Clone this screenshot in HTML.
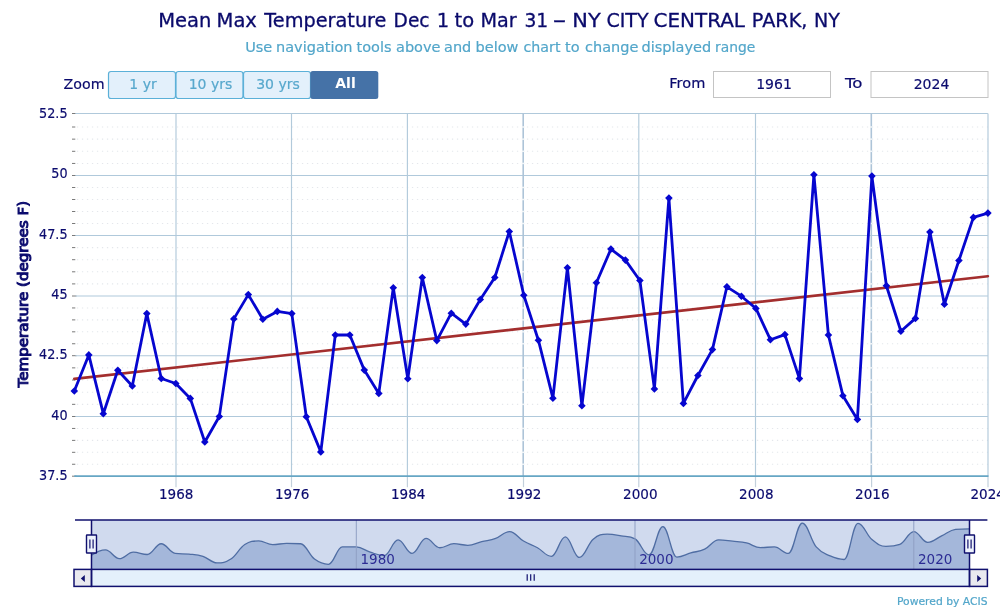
<!DOCTYPE html>
<html lang="en"><head><meta charset="utf-8"><title>Mean Max Temperature</title>
<style>html,body{margin:0;padding:0;background:#fff;}body{width:1000px;height:611px;overflow:hidden;}svg{display:block;font-family:"DejaVu Sans","Liberation Sans",sans-serif;}</style></head><body>
<svg width="1000" height="611" viewBox="0 0 1000 611">
<rect x="0" y="0" width="1000" height="611" fill="#ffffff"/>
<text y="27.0" font-size="19.5" fill="#0a0a6b" stroke="#0a0a6b" stroke-width="0.3" id="title"><tspan x="158.3">Mean</tspan> <tspan x="216.6">Max</tspan> <tspan x="264.3" textLength="122.2" lengthAdjust="spacingAndGlyphs">Temperature</tspan> <tspan x="393.6" textLength="36.0" lengthAdjust="spacingAndGlyphs">Dec</tspan> <tspan x="436.8">1</tspan> <tspan x="454.5" textLength="19.6" lengthAdjust="spacingAndGlyphs">to</tspan> <tspan x="480.4" textLength="36.2" lengthAdjust="spacingAndGlyphs">Mar</tspan> <tspan x="524.4" textLength="23.8" lengthAdjust="spacingAndGlyphs">31</tspan> <tspan x="552.5" textLength="14.0" lengthAdjust="spacingAndGlyphs">-</tspan> <tspan x="572.3" textLength="28.4" lengthAdjust="spacingAndGlyphs">NY</tspan> <tspan x="606.4" textLength="42.2" lengthAdjust="spacingAndGlyphs">CITY</tspan> <tspan x="653.5" textLength="91.5" lengthAdjust="spacingAndGlyphs">CENTRAL</tspan> <tspan x="751.8" textLength="55.6" lengthAdjust="spacingAndGlyphs">PARK,</tspan> <tspan x="814.0" textLength="25.9" lengthAdjust="spacingAndGlyphs">NY</tspan></text>
<text y="52.0" font-size="14.5" fill="#52a6ca" stroke="#52a6ca" stroke-width="0.18" id="sub"><tspan x="245.2">Use</tspan> <tspan x="276.0">navigation</tspan> <tspan x="356.5">tools</tspan> <tspan x="396.0">above</tspan> <tspan x="444.0">and</tspan> <tspan x="475.5">below</tspan> <tspan x="523.5" textLength="37.0" lengthAdjust="spacingAndGlyphs">chart</tspan> <tspan x="565.0">to</tspan> <tspan x="585.0">change</tspan> <tspan x="641.5">displayed</tspan> <tspan x="715.0" textLength="40.3" lengthAdjust="spacingAndGlyphs">range</tspan></text>
<text x="63.6" y="89" font-size="14" fill="#0b0b6e" stroke="#0b0b6e" stroke-width="0.18" textLength="41" lengthAdjust="spacingAndGlyphs">Zoom</text>
<rect x="108.5" y="71.5" width="67" height="27" rx="2.5" fill="#e3f0fb" stroke="#5bb0d8" stroke-width="1.2"/>
<text x="143.0" y="88.5" font-size="14" fill="#58a8cd" text-anchor="middle" stroke="#58a8cd" stroke-width="0.2">1 yr</text>
<rect x="176.0" y="71.5" width="67" height="27" rx="2.5" fill="#e3f0fb" stroke="#5bb0d8" stroke-width="1.2"/>
<text x="210.5" y="88.5" font-size="14" fill="#58a8cd" text-anchor="middle" stroke="#58a8cd" stroke-width="0.2">10 yrs</text>
<rect x="243.5" y="71.5" width="67" height="27" rx="2.5" fill="#e3f0fb" stroke="#5bb0d8" stroke-width="1.2"/>
<text x="278.0" y="88.5" font-size="14" fill="#58a8cd" text-anchor="middle" stroke="#58a8cd" stroke-width="0.2">30 yrs</text>
<rect x="310.3" y="71" width="68" height="28" rx="2.5" fill="#4572a7"/>
<text x="345.5" y="87.6" font-size="14" fill="#ffffff" text-anchor="middle" font-weight="bold">All</text>
<text x="669.3" y="88.4" font-size="14" fill="#0b0b6e" stroke="#0b0b6e" stroke-width="0.18" textLength="36" lengthAdjust="spacingAndGlyphs">From</text>
<rect x="713.5" y="71.5" width="117" height="26" fill="#ffffff" stroke="#c4c4c4" stroke-width="1"/>
<text x="774" y="88.5" font-size="14" fill="#0b0b6e" text-anchor="middle" stroke="#0b0b6e" stroke-width="0.18">1961</text>
<text x="845" y="88.4" font-size="14" fill="#0b0b6e" stroke="#0b0b6e" stroke-width="0.18" textLength="17.5" lengthAdjust="spacingAndGlyphs">To</text>
<rect x="871" y="71.5" width="117" height="26" fill="#ffffff" stroke="#c4c4c4" stroke-width="1"/>
<text x="931.5" y="88.5" font-size="14" fill="#0b0b6e" text-anchor="middle" stroke="#0b0b6e" stroke-width="0.18">2024</text>
<line x1="76.9" y1="127.00" x2="987.9" y2="127.00" stroke="#e4e7ec" stroke-width="1.1" stroke-dasharray="1.3,3.7"/>
<line x1="76.9" y1="139.15" x2="987.9" y2="139.15" stroke="#e4e7ec" stroke-width="1.1" stroke-dasharray="1.3,3.7"/>
<line x1="76.9" y1="151.30" x2="987.9" y2="151.30" stroke="#e4e7ec" stroke-width="1.1" stroke-dasharray="1.3,3.7"/>
<line x1="76.9" y1="163.45" x2="987.9" y2="163.45" stroke="#e4e7ec" stroke-width="1.1" stroke-dasharray="1.3,3.7"/>
<line x1="76.9" y1="187.50" x2="987.9" y2="187.50" stroke="#e4e7ec" stroke-width="1.1" stroke-dasharray="1.3,3.7"/>
<line x1="76.9" y1="199.50" x2="987.9" y2="199.50" stroke="#e4e7ec" stroke-width="1.1" stroke-dasharray="1.3,3.7"/>
<line x1="76.9" y1="211.50" x2="987.9" y2="211.50" stroke="#e4e7ec" stroke-width="1.1" stroke-dasharray="1.3,3.7"/>
<line x1="76.9" y1="223.50" x2="987.9" y2="223.50" stroke="#e4e7ec" stroke-width="1.1" stroke-dasharray="1.3,3.7"/>
<line x1="76.9" y1="247.60" x2="987.9" y2="247.60" stroke="#e4e7ec" stroke-width="1.1" stroke-dasharray="1.3,3.7"/>
<line x1="76.9" y1="259.70" x2="987.9" y2="259.70" stroke="#e4e7ec" stroke-width="1.1" stroke-dasharray="1.3,3.7"/>
<line x1="76.9" y1="271.80" x2="987.9" y2="271.80" stroke="#e4e7ec" stroke-width="1.1" stroke-dasharray="1.3,3.7"/>
<line x1="76.9" y1="283.90" x2="987.9" y2="283.90" stroke="#e4e7ec" stroke-width="1.1" stroke-dasharray="1.3,3.7"/>
<line x1="76.9" y1="307.94" x2="987.9" y2="307.94" stroke="#e4e7ec" stroke-width="1.1" stroke-dasharray="1.3,3.7"/>
<line x1="76.9" y1="319.88" x2="987.9" y2="319.88" stroke="#e4e7ec" stroke-width="1.1" stroke-dasharray="1.3,3.7"/>
<line x1="76.9" y1="331.82" x2="987.9" y2="331.82" stroke="#e4e7ec" stroke-width="1.1" stroke-dasharray="1.3,3.7"/>
<line x1="76.9" y1="343.76" x2="987.9" y2="343.76" stroke="#e4e7ec" stroke-width="1.1" stroke-dasharray="1.3,3.7"/>
<line x1="76.9" y1="367.86" x2="987.9" y2="367.86" stroke="#e4e7ec" stroke-width="1.1" stroke-dasharray="1.3,3.7"/>
<line x1="76.9" y1="380.02" x2="987.9" y2="380.02" stroke="#e4e7ec" stroke-width="1.1" stroke-dasharray="1.3,3.7"/>
<line x1="76.9" y1="392.18" x2="987.9" y2="392.18" stroke="#e4e7ec" stroke-width="1.1" stroke-dasharray="1.3,3.7"/>
<line x1="76.9" y1="404.34" x2="987.9" y2="404.34" stroke="#e4e7ec" stroke-width="1.1" stroke-dasharray="1.3,3.7"/>
<line x1="76.9" y1="428.44" x2="987.9" y2="428.44" stroke="#e4e7ec" stroke-width="1.1" stroke-dasharray="1.3,3.7"/>
<line x1="76.9" y1="440.38" x2="987.9" y2="440.38" stroke="#e4e7ec" stroke-width="1.1" stroke-dasharray="1.3,3.7"/>
<line x1="76.9" y1="452.32" x2="987.9" y2="452.32" stroke="#e4e7ec" stroke-width="1.1" stroke-dasharray="1.3,3.7"/>
<line x1="76.9" y1="464.26" x2="987.9" y2="464.26" stroke="#e4e7ec" stroke-width="1.1" stroke-dasharray="1.3,3.7"/>
<line x1="72" y1="127.00" x2="75.3" y2="127.00" stroke="#7a7a7a" stroke-width="1"/>
<line x1="72" y1="139.15" x2="75.3" y2="139.15" stroke="#7a7a7a" stroke-width="1"/>
<line x1="72" y1="151.30" x2="75.3" y2="151.30" stroke="#7a7a7a" stroke-width="1"/>
<line x1="72" y1="163.45" x2="75.3" y2="163.45" stroke="#7a7a7a" stroke-width="1"/>
<line x1="72" y1="187.50" x2="75.3" y2="187.50" stroke="#7a7a7a" stroke-width="1"/>
<line x1="72" y1="199.50" x2="75.3" y2="199.50" stroke="#7a7a7a" stroke-width="1"/>
<line x1="72" y1="211.50" x2="75.3" y2="211.50" stroke="#7a7a7a" stroke-width="1"/>
<line x1="72" y1="223.50" x2="75.3" y2="223.50" stroke="#7a7a7a" stroke-width="1"/>
<line x1="72" y1="247.60" x2="75.3" y2="247.60" stroke="#7a7a7a" stroke-width="1"/>
<line x1="72" y1="259.70" x2="75.3" y2="259.70" stroke="#7a7a7a" stroke-width="1"/>
<line x1="72" y1="271.80" x2="75.3" y2="271.80" stroke="#7a7a7a" stroke-width="1"/>
<line x1="72" y1="283.90" x2="75.3" y2="283.90" stroke="#7a7a7a" stroke-width="1"/>
<line x1="72" y1="307.94" x2="75.3" y2="307.94" stroke="#7a7a7a" stroke-width="1"/>
<line x1="72" y1="319.88" x2="75.3" y2="319.88" stroke="#7a7a7a" stroke-width="1"/>
<line x1="72" y1="331.82" x2="75.3" y2="331.82" stroke="#7a7a7a" stroke-width="1"/>
<line x1="72" y1="343.76" x2="75.3" y2="343.76" stroke="#7a7a7a" stroke-width="1"/>
<line x1="72" y1="367.86" x2="75.3" y2="367.86" stroke="#7a7a7a" stroke-width="1"/>
<line x1="72" y1="380.02" x2="75.3" y2="380.02" stroke="#7a7a7a" stroke-width="1"/>
<line x1="72" y1="392.18" x2="75.3" y2="392.18" stroke="#7a7a7a" stroke-width="1"/>
<line x1="72" y1="404.34" x2="75.3" y2="404.34" stroke="#7a7a7a" stroke-width="1"/>
<line x1="72" y1="428.44" x2="75.3" y2="428.44" stroke="#7a7a7a" stroke-width="1"/>
<line x1="72" y1="440.38" x2="75.3" y2="440.38" stroke="#7a7a7a" stroke-width="1"/>
<line x1="72" y1="452.32" x2="75.3" y2="452.32" stroke="#7a7a7a" stroke-width="1"/>
<line x1="72" y1="464.26" x2="75.3" y2="464.26" stroke="#7a7a7a" stroke-width="1"/>
<line x1="72" y1="113.50" x2="76.5" y2="113.50" stroke="#7a7a7a" stroke-width="1"/>
<line x1="72" y1="175.50" x2="76.5" y2="175.50" stroke="#7a7a7a" stroke-width="1"/>
<line x1="72" y1="235.50" x2="76.5" y2="235.50" stroke="#7a7a7a" stroke-width="1"/>
<line x1="72" y1="296.00" x2="76.5" y2="296.00" stroke="#7a7a7a" stroke-width="1"/>
<line x1="72" y1="355.70" x2="76.5" y2="355.70" stroke="#7a7a7a" stroke-width="1"/>
<line x1="72" y1="416.50" x2="76.5" y2="416.50" stroke="#7a7a7a" stroke-width="1"/>
<line x1="72" y1="476.20" x2="76.5" y2="476.20" stroke="#7a7a7a" stroke-width="1"/>
<line x1="75.3" y1="113.50" x2="987.9" y2="113.50" stroke="#b0c9db" stroke-width="1.1"/>
<text x="67.6" y="118.0" font-size="13.8" fill="#0b0b6e" text-anchor="end" stroke="#0b0b6e" stroke-width="0.18" textLength="28.5" lengthAdjust="spacingAndGlyphs">52.5</text>
<line x1="75.3" y1="175.50" x2="987.9" y2="175.50" stroke="#b0c9db" stroke-width="1.1"/>
<text x="67.6" y="178.3" font-size="13.8" fill="#0b0b6e" text-anchor="end" stroke="#0b0b6e" stroke-width="0.18" textLength="16.3" lengthAdjust="spacingAndGlyphs">50</text>
<line x1="75.3" y1="235.50" x2="987.9" y2="235.50" stroke="#b0c9db" stroke-width="1.1"/>
<text x="67.6" y="238.6" font-size="13.8" fill="#0b0b6e" text-anchor="end" stroke="#0b0b6e" stroke-width="0.18" textLength="28.5" lengthAdjust="spacingAndGlyphs">47.5</text>
<line x1="75.3" y1="296.00" x2="987.9" y2="296.00" stroke="#b0c9db" stroke-width="1.1"/>
<text x="67.6" y="298.9" font-size="13.8" fill="#0b0b6e" text-anchor="end" stroke="#0b0b6e" stroke-width="0.18" textLength="16.3" lengthAdjust="spacingAndGlyphs">45</text>
<line x1="75.3" y1="355.70" x2="987.9" y2="355.70" stroke="#b0c9db" stroke-width="1.1"/>
<text x="67.6" y="359.2" font-size="13.8" fill="#0b0b6e" text-anchor="end" stroke="#0b0b6e" stroke-width="0.18" textLength="28.5" lengthAdjust="spacingAndGlyphs">42.5</text>
<line x1="75.3" y1="416.50" x2="987.9" y2="416.50" stroke="#b0c9db" stroke-width="1.1"/>
<text x="67.6" y="419.5" font-size="13.8" fill="#0b0b6e" text-anchor="end" stroke="#0b0b6e" stroke-width="0.18" textLength="16.3" lengthAdjust="spacingAndGlyphs">40</text>
<text x="67.6" y="479.8" font-size="13.8" fill="#0b0b6e" text-anchor="end" stroke="#0b0b6e" stroke-width="0.18" textLength="28.5" lengthAdjust="spacingAndGlyphs">37.5</text>
<line x1="176.00" y1="113.5" x2="176.00" y2="476.2" stroke="#b2cadb" stroke-width="1.15"/>
<line x1="176.00" y1="476.2" x2="176.00" y2="487.2" stroke="#c3d0dc" stroke-width="1.2"/>
<text x="176.2" y="499.2" font-size="14" fill="#0b0b6e" text-anchor="middle" stroke="#0b0b6e" stroke-width="0.18" textLength="34.4" lengthAdjust="spacingAndGlyphs">1968</text>
<line x1="291.50" y1="113.5" x2="291.50" y2="476.2" stroke="#b2cadb" stroke-width="1.15"/>
<line x1="291.50" y1="476.2" x2="291.50" y2="487.2" stroke="#c3d0dc" stroke-width="1.2"/>
<text x="292.2" y="499.2" font-size="14" fill="#0b0b6e" text-anchor="middle" stroke="#0b0b6e" stroke-width="0.18" textLength="34.4" lengthAdjust="spacingAndGlyphs">1976</text>
<line x1="407.40" y1="113.5" x2="407.40" y2="476.2" stroke="#b2cadb" stroke-width="1.15"/>
<line x1="407.40" y1="476.2" x2="407.40" y2="487.2" stroke="#c3d0dc" stroke-width="1.2"/>
<text x="408.2" y="499.2" font-size="14" fill="#0b0b6e" text-anchor="middle" stroke="#0b0b6e" stroke-width="0.18" textLength="34.4" lengthAdjust="spacingAndGlyphs">1984</text>
<line x1="523.20" y1="113.5" x2="523.20" y2="476.2" stroke="#adc4d8" stroke-width="1.6"/>
<rect x="521.90" y="126.25" width="2.6" height="1.5" fill="#f1f5f8"/>
<rect x="521.90" y="138.40" width="2.6" height="1.5" fill="#f1f5f8"/>
<rect x="521.90" y="150.55" width="2.6" height="1.5" fill="#f1f5f8"/>
<rect x="521.90" y="162.70" width="2.6" height="1.5" fill="#f1f5f8"/>
<rect x="521.90" y="186.75" width="2.6" height="1.5" fill="#f1f5f8"/>
<rect x="521.90" y="198.75" width="2.6" height="1.5" fill="#f1f5f8"/>
<rect x="521.90" y="210.75" width="2.6" height="1.5" fill="#f1f5f8"/>
<rect x="521.90" y="222.75" width="2.6" height="1.5" fill="#f1f5f8"/>
<rect x="521.90" y="246.85" width="2.6" height="1.5" fill="#f1f5f8"/>
<rect x="521.90" y="258.95" width="2.6" height="1.5" fill="#f1f5f8"/>
<rect x="521.90" y="271.05" width="2.6" height="1.5" fill="#f1f5f8"/>
<rect x="521.90" y="283.15" width="2.6" height="1.5" fill="#f1f5f8"/>
<rect x="521.90" y="307.19" width="2.6" height="1.5" fill="#f1f5f8"/>
<rect x="521.90" y="319.13" width="2.6" height="1.5" fill="#f1f5f8"/>
<rect x="521.90" y="331.07" width="2.6" height="1.5" fill="#f1f5f8"/>
<rect x="521.90" y="343.01" width="2.6" height="1.5" fill="#f1f5f8"/>
<rect x="521.90" y="367.11" width="2.6" height="1.5" fill="#f1f5f8"/>
<rect x="521.90" y="379.27" width="2.6" height="1.5" fill="#f1f5f8"/>
<rect x="521.90" y="391.43" width="2.6" height="1.5" fill="#f1f5f8"/>
<rect x="521.90" y="403.59" width="2.6" height="1.5" fill="#f1f5f8"/>
<rect x="521.90" y="427.69" width="2.6" height="1.5" fill="#f1f5f8"/>
<rect x="521.90" y="439.63" width="2.6" height="1.5" fill="#f1f5f8"/>
<rect x="521.90" y="451.57" width="2.6" height="1.5" fill="#f1f5f8"/>
<rect x="521.90" y="463.51" width="2.6" height="1.5" fill="#f1f5f8"/>
<line x1="523.50" y1="476.2" x2="523.50" y2="487.2" stroke="#c3d0dc" stroke-width="1.2"/>
<text x="524.2" y="499.2" font-size="14" fill="#0b0b6e" text-anchor="middle" stroke="#0b0b6e" stroke-width="0.18" textLength="34.4" lengthAdjust="spacingAndGlyphs">1992</text>
<line x1="638.80" y1="113.5" x2="638.80" y2="476.2" stroke="#b2cadb" stroke-width="1.15"/>
<line x1="638.80" y1="476.2" x2="638.80" y2="487.2" stroke="#c3d0dc" stroke-width="1.2"/>
<text x="640.3" y="499.2" font-size="14" fill="#0b0b6e" text-anchor="middle" stroke="#0b0b6e" stroke-width="0.18" textLength="34.4" lengthAdjust="spacingAndGlyphs">2000</text>
<line x1="755.50" y1="113.5" x2="755.50" y2="476.2" stroke="#b2cadb" stroke-width="1.15"/>
<line x1="755.50" y1="476.2" x2="755.50" y2="487.2" stroke="#c3d0dc" stroke-width="1.2"/>
<text x="756.3" y="499.2" font-size="14" fill="#0b0b6e" text-anchor="middle" stroke="#0b0b6e" stroke-width="0.18" textLength="34.4" lengthAdjust="spacingAndGlyphs">2008</text>
<line x1="871.30" y1="113.5" x2="871.30" y2="476.2" stroke="#adc4d8" stroke-width="1.6"/>
<rect x="870.00" y="126.25" width="2.6" height="1.5" fill="#f1f5f8"/>
<rect x="870.00" y="138.40" width="2.6" height="1.5" fill="#f1f5f8"/>
<rect x="870.00" y="150.55" width="2.6" height="1.5" fill="#f1f5f8"/>
<rect x="870.00" y="162.70" width="2.6" height="1.5" fill="#f1f5f8"/>
<rect x="870.00" y="186.75" width="2.6" height="1.5" fill="#f1f5f8"/>
<rect x="870.00" y="198.75" width="2.6" height="1.5" fill="#f1f5f8"/>
<rect x="870.00" y="210.75" width="2.6" height="1.5" fill="#f1f5f8"/>
<rect x="870.00" y="222.75" width="2.6" height="1.5" fill="#f1f5f8"/>
<rect x="870.00" y="246.85" width="2.6" height="1.5" fill="#f1f5f8"/>
<rect x="870.00" y="258.95" width="2.6" height="1.5" fill="#f1f5f8"/>
<rect x="870.00" y="271.05" width="2.6" height="1.5" fill="#f1f5f8"/>
<rect x="870.00" y="283.15" width="2.6" height="1.5" fill="#f1f5f8"/>
<rect x="870.00" y="307.19" width="2.6" height="1.5" fill="#f1f5f8"/>
<rect x="870.00" y="319.13" width="2.6" height="1.5" fill="#f1f5f8"/>
<rect x="870.00" y="331.07" width="2.6" height="1.5" fill="#f1f5f8"/>
<rect x="870.00" y="343.01" width="2.6" height="1.5" fill="#f1f5f8"/>
<rect x="870.00" y="367.11" width="2.6" height="1.5" fill="#f1f5f8"/>
<rect x="870.00" y="379.27" width="2.6" height="1.5" fill="#f1f5f8"/>
<rect x="870.00" y="391.43" width="2.6" height="1.5" fill="#f1f5f8"/>
<rect x="870.00" y="403.59" width="2.6" height="1.5" fill="#f1f5f8"/>
<rect x="870.00" y="427.69" width="2.6" height="1.5" fill="#f1f5f8"/>
<rect x="870.00" y="439.63" width="2.6" height="1.5" fill="#f1f5f8"/>
<rect x="870.00" y="451.57" width="2.6" height="1.5" fill="#f1f5f8"/>
<rect x="870.00" y="463.51" width="2.6" height="1.5" fill="#f1f5f8"/>
<line x1="871.60" y1="476.2" x2="871.60" y2="487.2" stroke="#c3d0dc" stroke-width="1.2"/>
<text x="872.3" y="499.2" font-size="14" fill="#0b0b6e" text-anchor="middle" stroke="#0b0b6e" stroke-width="0.18" textLength="34.4" lengthAdjust="spacingAndGlyphs">2016</text>
<line x1="988.00" y1="113.5" x2="988.00" y2="476.2" stroke="#b2cadb" stroke-width="1.15"/>
<line x1="988.00" y1="476.2" x2="988.00" y2="487.2" stroke="#c3d0dc" stroke-width="1.2"/>
<text x="970.5" y="499.2" font-size="14" fill="#0b0b6e" stroke="#0b0b6e" stroke-width="0.18" textLength="34.4" lengthAdjust="spacingAndGlyphs">2024</text>
<line x1="74.3" y1="476.2" x2="988.5" y2="476.2" stroke="#66a6c4" stroke-width="1.8"/>
<text transform="translate(28,294.2) rotate(-90)" text-anchor="middle" font-size="14" fill="#0b0b6e" stroke="#0b0b6e" stroke-width="0.95" textLength="186.5" lengthAdjust="spacingAndGlyphs">Temperature (degrees F)</text>
<line x1="74.3" y1="378.9" x2="987.9" y2="276.2" stroke="#a32e2e" stroke-width="2.6" stroke-linecap="round"/>
<polyline points="74.3,391.0 88.8,354.9 103.3,413.7 117.8,370.2 132.3,386.0 146.8,313.6 161.3,378.5 175.8,383.5 190.3,398.4 204.8,442.0 219.3,416.5 233.8,318.9 248.3,294.6 262.8,319.2 277.3,311.4 291.8,313.6 306.3,416.8 320.8,451.9 335.3,335.0 349.8,335.0 364.3,370.1 378.8,393.4 393.3,287.7 407.8,378.8 422.3,277.5 436.8,340.6 451.3,313.2 465.8,324.1 480.3,299.5 494.8,277.5 509.3,231.5 523.8,295.3 538.4,340.2 552.9,398.2 567.4,267.7 581.9,405.8 596.4,282.8 610.9,249.1 625.4,260.1 639.9,280.5 654.4,388.9 668.9,198.1 683.4,403.4 697.9,375.5 712.4,349.6 726.9,286.8 741.4,296.2 755.9,308.4 770.4,339.7 784.9,334.6 799.4,378.6 813.9,174.7 828.4,335.0 842.9,395.7 857.4,419.4 871.9,176.1 886.4,285.7 900.9,331.2 915.4,318.4 929.9,232.1 944.4,304.2 958.9,260.5 973.4,217.4 987.9,213.1" fill="none" stroke="#0606cf" stroke-width="2.8" stroke-linejoin="round" stroke-linecap="round"/>
<path d="M74.3 387.2 L78.1 391.0 L74.3 394.8 L70.5 391.0 Z" fill="#0606cf"/>
<path d="M88.8 351.1 L92.6 354.9 L88.8 358.7 L85.0 354.9 Z" fill="#0606cf"/>
<path d="M103.3 409.9 L107.1 413.7 L103.3 417.5 L99.5 413.7 Z" fill="#0606cf"/>
<path d="M117.8 366.4 L121.6 370.2 L117.8 374.0 L114.0 370.2 Z" fill="#0606cf"/>
<path d="M132.3 382.2 L136.1 386.0 L132.3 389.8 L128.5 386.0 Z" fill="#0606cf"/>
<path d="M146.8 309.8 L150.6 313.6 L146.8 317.4 L143.0 313.6 Z" fill="#0606cf"/>
<path d="M161.3 374.7 L165.1 378.5 L161.3 382.3 L157.5 378.5 Z" fill="#0606cf"/>
<path d="M175.8 379.7 L179.6 383.5 L175.8 387.3 L172.0 383.5 Z" fill="#0606cf"/>
<path d="M190.3 394.6 L194.1 398.4 L190.3 402.2 L186.5 398.4 Z" fill="#0606cf"/>
<path d="M204.8 438.2 L208.6 442.0 L204.8 445.8 L201.0 442.0 Z" fill="#0606cf"/>
<path d="M219.3 412.7 L223.1 416.5 L219.3 420.3 L215.5 416.5 Z" fill="#0606cf"/>
<path d="M233.8 315.1 L237.6 318.9 L233.8 322.7 L230.0 318.9 Z" fill="#0606cf"/>
<path d="M248.3 290.8 L252.1 294.6 L248.3 298.4 L244.5 294.6 Z" fill="#0606cf"/>
<path d="M262.8 315.4 L266.6 319.2 L262.8 323.0 L259.0 319.2 Z" fill="#0606cf"/>
<path d="M277.3 307.6 L281.1 311.4 L277.3 315.2 L273.5 311.4 Z" fill="#0606cf"/>
<path d="M291.8 309.8 L295.6 313.6 L291.8 317.4 L288.0 313.6 Z" fill="#0606cf"/>
<path d="M306.3 413.0 L310.1 416.8 L306.3 420.6 L302.5 416.8 Z" fill="#0606cf"/>
<path d="M320.8 448.1 L324.6 451.9 L320.8 455.7 L317.0 451.9 Z" fill="#0606cf"/>
<path d="M335.3 331.2 L339.1 335.0 L335.3 338.8 L331.5 335.0 Z" fill="#0606cf"/>
<path d="M349.8 331.2 L353.6 335.0 L349.8 338.8 L346.0 335.0 Z" fill="#0606cf"/>
<path d="M364.3 366.3 L368.1 370.1 L364.3 373.9 L360.5 370.1 Z" fill="#0606cf"/>
<path d="M378.8 389.6 L382.6 393.4 L378.8 397.2 L375.0 393.4 Z" fill="#0606cf"/>
<path d="M393.3 283.9 L397.1 287.7 L393.3 291.5 L389.5 287.7 Z" fill="#0606cf"/>
<path d="M407.8 375.0 L411.6 378.8 L407.8 382.6 L404.0 378.8 Z" fill="#0606cf"/>
<path d="M422.3 273.7 L426.1 277.5 L422.3 281.3 L418.5 277.5 Z" fill="#0606cf"/>
<path d="M436.8 336.8 L440.6 340.6 L436.8 344.4 L433.0 340.6 Z" fill="#0606cf"/>
<path d="M451.3 309.4 L455.1 313.2 L451.3 317.0 L447.5 313.2 Z" fill="#0606cf"/>
<path d="M465.8 320.3 L469.6 324.1 L465.8 327.9 L462.0 324.1 Z" fill="#0606cf"/>
<path d="M480.3 295.7 L484.1 299.5 L480.3 303.3 L476.5 299.5 Z" fill="#0606cf"/>
<path d="M494.8 273.7 L498.6 277.5 L494.8 281.3 L491.0 277.5 Z" fill="#0606cf"/>
<path d="M509.3 227.7 L513.1 231.5 L509.3 235.3 L505.5 231.5 Z" fill="#0606cf"/>
<path d="M523.8 291.5 L527.6 295.3 L523.8 299.1 L520.0 295.3 Z" fill="#0606cf"/>
<path d="M538.4 336.4 L542.2 340.2 L538.4 344.0 L534.6 340.2 Z" fill="#0606cf"/>
<path d="M552.9 394.4 L556.7 398.2 L552.9 402.0 L549.1 398.2 Z" fill="#0606cf"/>
<path d="M567.4 263.9 L571.2 267.7 L567.4 271.5 L563.6 267.7 Z" fill="#0606cf"/>
<path d="M581.9 402.0 L585.7 405.8 L581.9 409.6 L578.1 405.8 Z" fill="#0606cf"/>
<path d="M596.4 279.0 L600.2 282.8 L596.4 286.6 L592.6 282.8 Z" fill="#0606cf"/>
<path d="M610.9 245.3 L614.7 249.1 L610.9 252.9 L607.1 249.1 Z" fill="#0606cf"/>
<path d="M625.4 256.3 L629.2 260.1 L625.4 263.9 L621.6 260.1 Z" fill="#0606cf"/>
<path d="M639.9 276.7 L643.7 280.5 L639.9 284.3 L636.1 280.5 Z" fill="#0606cf"/>
<path d="M654.4 385.1 L658.2 388.9 L654.4 392.7 L650.6 388.9 Z" fill="#0606cf"/>
<path d="M668.9 194.3 L672.7 198.1 L668.9 201.9 L665.1 198.1 Z" fill="#0606cf"/>
<path d="M683.4 399.6 L687.2 403.4 L683.4 407.2 L679.6 403.4 Z" fill="#0606cf"/>
<path d="M697.9 371.7 L701.7 375.5 L697.9 379.3 L694.1 375.5 Z" fill="#0606cf"/>
<path d="M712.4 345.8 L716.2 349.6 L712.4 353.4 L708.6 349.6 Z" fill="#0606cf"/>
<path d="M726.9 283.0 L730.7 286.8 L726.9 290.6 L723.1 286.8 Z" fill="#0606cf"/>
<path d="M741.4 292.4 L745.2 296.2 L741.4 300.0 L737.6 296.2 Z" fill="#0606cf"/>
<path d="M755.9 304.6 L759.7 308.4 L755.9 312.2 L752.1 308.4 Z" fill="#0606cf"/>
<path d="M770.4 335.9 L774.2 339.7 L770.4 343.5 L766.6 339.7 Z" fill="#0606cf"/>
<path d="M784.9 330.8 L788.7 334.6 L784.9 338.4 L781.1 334.6 Z" fill="#0606cf"/>
<path d="M799.4 374.8 L803.2 378.6 L799.4 382.4 L795.6 378.6 Z" fill="#0606cf"/>
<path d="M813.9 170.9 L817.7 174.7 L813.9 178.5 L810.1 174.7 Z" fill="#0606cf"/>
<path d="M828.4 331.2 L832.2 335.0 L828.4 338.8 L824.6 335.0 Z" fill="#0606cf"/>
<path d="M842.9 391.9 L846.7 395.7 L842.9 399.5 L839.1 395.7 Z" fill="#0606cf"/>
<path d="M857.4 415.6 L861.2 419.4 L857.4 423.2 L853.6 419.4 Z" fill="#0606cf"/>
<path d="M871.9 172.3 L875.7 176.1 L871.9 179.9 L868.1 176.1 Z" fill="#0606cf"/>
<path d="M886.4 281.9 L890.2 285.7 L886.4 289.5 L882.6 285.7 Z" fill="#0606cf"/>
<path d="M900.9 327.4 L904.7 331.2 L900.9 335.0 L897.1 331.2 Z" fill="#0606cf"/>
<path d="M915.4 314.6 L919.2 318.4 L915.4 322.2 L911.6 318.4 Z" fill="#0606cf"/>
<path d="M929.9 228.3 L933.7 232.1 L929.9 235.9 L926.1 232.1 Z" fill="#0606cf"/>
<path d="M944.4 300.4 L948.2 304.2 L944.4 308.0 L940.6 304.2 Z" fill="#0606cf"/>
<path d="M958.9 256.7 L962.7 260.5 L958.9 264.3 L955.1 260.5 Z" fill="#0606cf"/>
<path d="M973.4 213.6 L977.2 217.4 L973.4 221.2 L969.6 217.4 Z" fill="#0606cf"/>
<path d="M987.9 209.3 L991.7 213.1 L987.9 216.9 L984.1 213.1 Z" fill="#0606cf"/>
<rect x="91.5" y="520.0" width="878.0" height="49.4" fill="#d0daee"/>
<path d="M91.50 555.26 C91.50 555.26 99.86 549.90 105.44 549.90 C111.01 549.90 113.80 558.63 119.37 558.63 C124.95 558.63 127.73 552.17 133.31 552.17 C138.88 552.17 141.67 554.51 147.25 554.51 C152.82 554.51 155.61 543.76 161.18 543.76 C166.76 543.76 169.54 552.66 175.12 553.40 C180.69 554.14 183.48 553.55 189.06 554.14 C194.63 554.73 197.42 554.62 202.99 556.36 C208.57 558.09 211.35 562.83 216.93 562.83 C222.50 562.83 225.29 562.70 230.87 559.04 C236.44 555.39 239.23 548.16 244.80 544.55 C250.38 540.94 253.16 540.94 258.74 540.94 C264.31 540.94 267.10 544.59 272.67 544.59 C278.25 544.59 281.04 543.43 286.61 543.43 C292.19 543.43 294.97 543.43 300.55 543.76 C306.12 544.09 308.91 554.98 314.48 559.09 C320.06 563.20 322.85 564.30 328.42 564.30 C334.00 564.30 336.78 546.94 342.36 546.94 C347.93 546.94 350.72 546.94 356.29 546.94 C361.87 546.94 364.66 550.42 370.23 552.15 C375.80 553.89 378.59 555.61 384.17 555.61 C389.74 555.61 392.53 539.91 398.10 539.91 C403.68 539.91 406.47 553.45 412.04 553.45 C417.61 553.45 420.40 538.40 425.98 538.40 C431.55 538.40 434.34 547.77 439.91 547.77 C445.49 547.77 448.27 543.70 453.85 543.70 C459.42 543.70 462.21 545.32 467.79 545.32 C473.36 545.32 476.15 543.05 481.72 541.67 C487.30 540.28 490.08 540.42 495.66 538.40 C501.23 536.38 504.02 531.57 509.60 531.57 C515.17 531.57 517.96 537.81 523.53 541.04 C529.11 544.27 531.89 544.66 537.47 547.71 C543.04 550.77 545.83 556.33 551.40 556.33 C556.98 556.33 559.77 536.94 565.34 536.94 C570.92 536.94 573.70 557.46 579.28 557.46 C584.85 557.46 587.64 543.84 593.21 539.19 C598.79 534.53 601.58 534.18 607.15 534.18 C612.73 534.18 615.51 534.88 621.09 535.81 C626.66 536.75 629.45 535.81 635.02 538.84 C640.60 541.87 643.39 554.95 648.96 554.95 C654.53 554.95 657.32 526.61 662.90 526.61 C668.47 526.61 671.26 557.10 676.83 557.10 C682.41 557.10 685.20 554.55 690.77 552.96 C696.34 551.36 699.13 551.74 704.71 549.11 C710.28 546.47 713.07 539.78 718.64 539.78 C724.22 539.78 727.00 540.54 732.58 541.18 C738.15 541.82 740.94 541.70 746.52 542.99 C752.09 544.28 754.88 547.64 760.45 547.64 C766.03 547.64 768.81 546.88 774.39 546.88 C779.96 546.88 782.75 553.42 788.33 553.42 C793.90 553.42 796.69 523.13 802.26 523.13 C807.84 523.13 810.62 540.37 816.20 546.94 C821.77 553.50 824.56 553.45 830.13 555.96 C835.71 558.46 838.50 559.48 844.07 559.48 C849.65 559.48 852.43 523.34 858.01 523.34 C863.58 523.34 866.37 535.01 871.94 539.62 C877.52 544.22 880.31 546.38 885.88 546.38 C891.46 546.38 894.24 546.38 899.82 544.47 C905.39 542.57 908.18 531.66 913.75 531.66 C919.33 531.66 922.12 542.36 927.69 542.36 C933.27 542.36 936.05 538.45 941.63 535.87 C947.20 533.30 949.99 530.11 955.56 529.47 C961.14 528.83 969.50 528.83 969.50 528.83 L969.5 569.4 L91.5 569.4 Z" fill="#a4b7da"/>
<path d="M91.50 555.26 C91.50 555.26 99.86 549.90 105.44 549.90 C111.01 549.90 113.80 558.63 119.37 558.63 C124.95 558.63 127.73 552.17 133.31 552.17 C138.88 552.17 141.67 554.51 147.25 554.51 C152.82 554.51 155.61 543.76 161.18 543.76 C166.76 543.76 169.54 552.66 175.12 553.40 C180.69 554.14 183.48 553.55 189.06 554.14 C194.63 554.73 197.42 554.62 202.99 556.36 C208.57 558.09 211.35 562.83 216.93 562.83 C222.50 562.83 225.29 562.70 230.87 559.04 C236.44 555.39 239.23 548.16 244.80 544.55 C250.38 540.94 253.16 540.94 258.74 540.94 C264.31 540.94 267.10 544.59 272.67 544.59 C278.25 544.59 281.04 543.43 286.61 543.43 C292.19 543.43 294.97 543.43 300.55 543.76 C306.12 544.09 308.91 554.98 314.48 559.09 C320.06 563.20 322.85 564.30 328.42 564.30 C334.00 564.30 336.78 546.94 342.36 546.94 C347.93 546.94 350.72 546.94 356.29 546.94 C361.87 546.94 364.66 550.42 370.23 552.15 C375.80 553.89 378.59 555.61 384.17 555.61 C389.74 555.61 392.53 539.91 398.10 539.91 C403.68 539.91 406.47 553.45 412.04 553.45 C417.61 553.45 420.40 538.40 425.98 538.40 C431.55 538.40 434.34 547.77 439.91 547.77 C445.49 547.77 448.27 543.70 453.85 543.70 C459.42 543.70 462.21 545.32 467.79 545.32 C473.36 545.32 476.15 543.05 481.72 541.67 C487.30 540.28 490.08 540.42 495.66 538.40 C501.23 536.38 504.02 531.57 509.60 531.57 C515.17 531.57 517.96 537.81 523.53 541.04 C529.11 544.27 531.89 544.66 537.47 547.71 C543.04 550.77 545.83 556.33 551.40 556.33 C556.98 556.33 559.77 536.94 565.34 536.94 C570.92 536.94 573.70 557.46 579.28 557.46 C584.85 557.46 587.64 543.84 593.21 539.19 C598.79 534.53 601.58 534.18 607.15 534.18 C612.73 534.18 615.51 534.88 621.09 535.81 C626.66 536.75 629.45 535.81 635.02 538.84 C640.60 541.87 643.39 554.95 648.96 554.95 C654.53 554.95 657.32 526.61 662.90 526.61 C668.47 526.61 671.26 557.10 676.83 557.10 C682.41 557.10 685.20 554.55 690.77 552.96 C696.34 551.36 699.13 551.74 704.71 549.11 C710.28 546.47 713.07 539.78 718.64 539.78 C724.22 539.78 727.00 540.54 732.58 541.18 C738.15 541.82 740.94 541.70 746.52 542.99 C752.09 544.28 754.88 547.64 760.45 547.64 C766.03 547.64 768.81 546.88 774.39 546.88 C779.96 546.88 782.75 553.42 788.33 553.42 C793.90 553.42 796.69 523.13 802.26 523.13 C807.84 523.13 810.62 540.37 816.20 546.94 C821.77 553.50 824.56 553.45 830.13 555.96 C835.71 558.46 838.50 559.48 844.07 559.48 C849.65 559.48 852.43 523.34 858.01 523.34 C863.58 523.34 866.37 535.01 871.94 539.62 C877.52 544.22 880.31 546.38 885.88 546.38 C891.46 546.38 894.24 546.38 899.82 544.47 C905.39 542.57 908.18 531.66 913.75 531.66 C919.33 531.66 922.12 542.36 927.69 542.36 C933.27 542.36 936.05 538.45 941.63 535.87 C947.20 533.30 949.99 530.11 955.56 529.47 C961.14 528.83 969.50 528.83 969.50 528.83" fill="none" stroke="#4f6da3" stroke-width="1.3"/>
<line x1="356.3" y1="520.0" x2="356.3" y2="569.4" stroke="#8f9fc4" stroke-width="1"/>
<text x="360.5" y="563.8" font-size="13.5" fill="#2c2c94">1980</text>
<line x1="635.0" y1="520.0" x2="635.0" y2="569.4" stroke="#8f9fc4" stroke-width="1"/>
<text x="639.2" y="563.8" font-size="13.5" fill="#2c2c94">2000</text>
<line x1="913.8" y1="520.0" x2="913.8" y2="569.4" stroke="#8f9fc4" stroke-width="1"/>
<text x="918.0" y="563.8" font-size="13.5" fill="#2c2c94">2020</text>
<rect x="91.5" y="569.4" width="878.0" height="17.0" fill="#e4f0fb"/>
<rect x="74.0" y="569.4" width="17.5" height="17.0" fill="#e9e9ef" stroke="#10106e" stroke-width="1.5"/>
<rect x="969.5" y="569.4" width="17.9" height="17.0" fill="#e9e9ef" stroke="#10106e" stroke-width="1.5"/>
<rect x="91.5" y="569.4" width="878.0" height="17.0" fill="none" stroke="#10106e" stroke-width="1.5"/>
<path d="M80.8 578.6 L84.8 575.1 L84.8 582.1 Z" fill="#10106e"/>
<path d="M981.2 578.6 L977.2 575.1 L977.2 582.1 Z" fill="#10106e"/>
<line x1="527.2" y1="574.2" x2="527.2" y2="580.8" stroke="#10106e" stroke-width="1.2"/>
<line x1="530.7" y1="574.2" x2="530.7" y2="580.8" stroke="#10106e" stroke-width="1.2"/>
<line x1="534.2" y1="574.2" x2="534.2" y2="580.8" stroke="#10106e" stroke-width="1.2"/>
<path d="M75 520.0 L987.4 520.0 M91.5 520.0 L91.5 569.4 M969.5 520.0 L969.5 569.4" fill="none" stroke="#10106e" stroke-width="1.5"/>
<rect x="86.5" y="535" width="10" height="18" rx="0.5" fill="#eef3fc" stroke="#10106e" stroke-width="1.4"/>
<line x1="89.9" y1="539.5" x2="89.9" y2="548.5" stroke="#10106e" stroke-width="1.2"/>
<line x1="93.1" y1="539.5" x2="93.1" y2="548.5" stroke="#10106e" stroke-width="1.2"/>
<rect x="964.5" y="535" width="10" height="18" rx="0.5" fill="#eef3fc" stroke="#10106e" stroke-width="1.4"/>
<line x1="967.9" y1="539.5" x2="967.9" y2="548.5" stroke="#10106e" stroke-width="1.2"/>
<line x1="971.1" y1="539.5" x2="971.1" y2="548.5" stroke="#10106e" stroke-width="1.2"/>
<text x="987.5" y="605.0" font-size="11" fill="#52a6ca" text-anchor="end" stroke="#52a6ca" stroke-width="0.2" textLength="90.5" lengthAdjust="spacingAndGlyphs">Powered by ACIS</text>
</svg></body></html>
